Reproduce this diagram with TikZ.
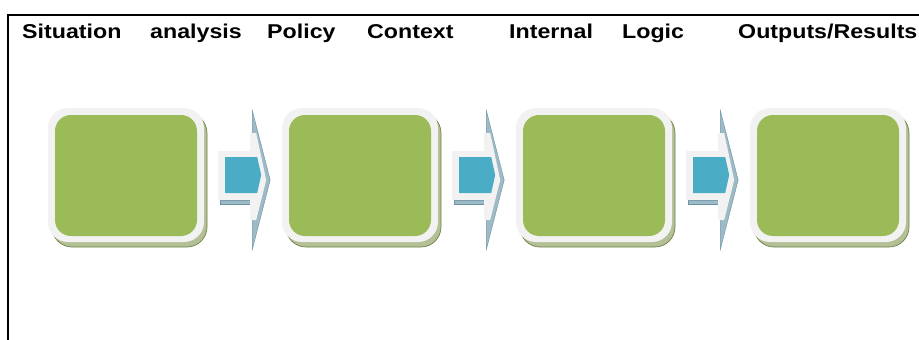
\documentclass[tikz,border=0pt]{standalone}
\usepackage{fontspec}
\setmainfont{Liberation Sans}
\usetikzlibrary{calc}
\definecolor{boxgray}{HTML}{F2F2F2}
\definecolor{boxgreen}{HTML}{9BBB59}
\definecolor{arrblue}{HTML}{4BACC6}
\definecolor{hatchblue}{HTML}{9DBAC6}
\definecolor{hatchedge}{HTML}{6A93A5}
\definecolor{shadowgreen}{HTML}{B3BF95}
\definecolor{shadowedge}{HTML}{6F8148}
\tikzset{
  word/.style={anchor=base west, inner sep=0pt, font=\bfseries\fontsize{20}{22}\selectfont},
  outerbox/.style={fill=boxgray, rounded corners=20pt, minimum width=156pt, minimum height=134pt, inner sep=0pt},
  shadowbox/.style={fill=shadowgreen, draw=shadowedge, line width=0.7pt, rounded corners=20pt, minimum width=155pt, minimum height=134pt, inner sep=0pt},
  greenbox/.style={fill=boxgreen, rounded corners=16pt, minimum width=142pt, minimum height=121pt, inner sep=0pt},
  frameline/.style={line width=2pt, black},
  chev/.pic={
    \fill[hatchblue, draw=hatchedge, line width=0.4pt] (34,-70) -- (52,0) -- (34,70) -- cycle;
    \fill[hatchblue, draw=hatchedge, line width=0.4pt] (2,20.5) rectangle (32,24.5);
    \fill[boxgray] (0,-29) -- (32,-29) -- (32,-47) -- (38,-47) -- (48,0) -- (38,40) -- (32,40) -- (32,20) -- (0,20) -- cycle;
    \fill[arrblue] (7,-23) -- (39,-23) -- (43,-5) -- (39,13) -- (7,13) -- cycle;
  }
}
\begin{document}
\begin{tikzpicture}[x=1pt,y=-1pt]
\useasboundingbox (0,0) rectangle (919,340);
% frame
\coordinate (fb) at (8,341);
\coordinate (fc) at (8,15);
\coordinate (fr) at (920,15);
\draw[frameline] (fb) -- (fc) -- (fr);
% headings
\node[word] (w1) at (22,38.8) {\scalebox{1.16}[1]{Situation}};
\node[word] (w2) at (150,38.8) {\scalebox{1.16}[1]{analysis}};
\node[word] (w3) at (267,38.8) {\scalebox{1.16}[1]{Policy}};
\node[word] (w4) at (367,38.8) {\scalebox{1.16}[1]{Context}};
\node[word] (w5) at (509,38.8) {\scalebox{1.16}[1]{Internal}};
\node[word] (w6) at (622,38.8) {\scalebox{1.16}[1]{Logic}};
\node[word] (w7) at (738,38.8) {\scalebox{1.16}[1]{Outputs/Results}};
% boxes
\foreach \i/\cx in {1/126, 2/360, 3/594, 4/828} {
  \node[shadowbox] (s\i) at (\cx+3.5,180) {};
  \node[outerbox] (o\i) at (\cx,175) {};
  \node[greenbox] (g\i) at (\cx,175.5) {};
}
% arrows between boxes
\foreach \i in {1,2,3} {
  \pic at ($(o\i.east)+(14,5)$) {chev};
}
\end{tikzpicture}
\end{document}
